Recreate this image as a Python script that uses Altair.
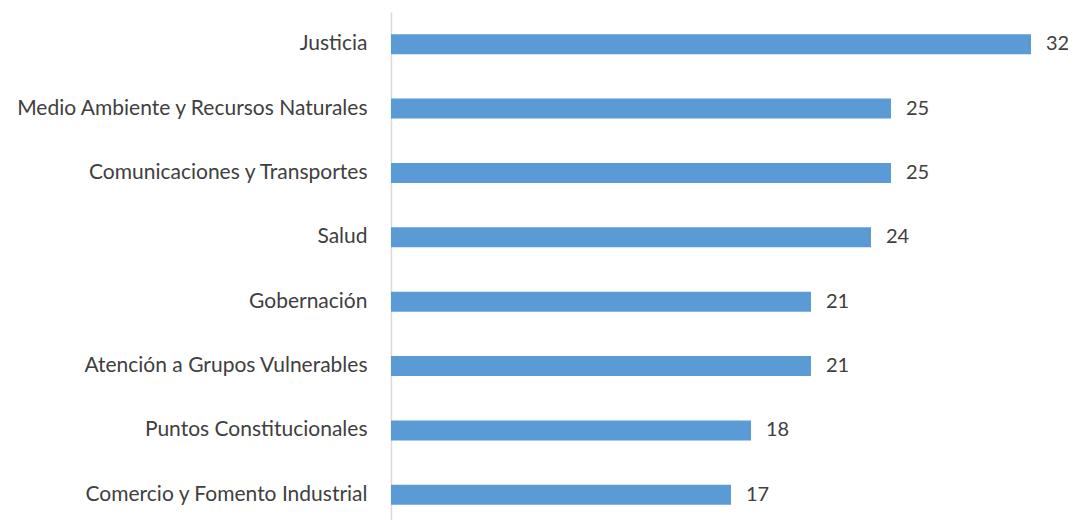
import altair as alt
import pandas as pd

categories = [
    "Justicia",
    "Medio Ambiente y Recursos Naturales",
    "Comunicaciones y Transportes",
    "Salud",
    "Gobernación",
    "Atención a Grupos Vulnerables",
    "Puntos Constitucionales",
    "Comercio y Fomento Industrial",
]
values = [32, 25, 25, 24, 21, 21, 18, 17]

df = pd.DataFrame({"cat": categories, "val": values})

FONT = "Lato"
TXT = "#404040"

y = alt.Y(
    "cat:N",
    sort=categories,
    scale=alt.Scale(paddingInner=0.69, paddingOuter=0.345),
    axis=alt.Axis(
        title=None,
        ticks=False,
        domainColor="#d9d9d9",
        domainWidth=1.5,
        labelFont=FONT,
        labelFontSize=21,
        labelColor=TXT,
        labelPadding=24,
        labelLimit=400,
    ),
)
x = alt.X("val:Q", scale=alt.Scale(domain=[0, 33]), axis=None)

bars = alt.Chart(df).mark_bar(color="#5B9BD5").encode(x=x, y=y)
labels = alt.Chart(df).mark_text(
    align="left", baseline="middle", dx=15, font=FONT, fontSize=20, color=TXT
).encode(x=x, y=y, text="val:Q")

chart = (
    (bars + labels)
    .properties(
        width=660,
        height=515,
        background="white",
        autosize=alt.AutoSizeParams(type="none"),
        padding={"left": 383, "top": 4, "right": 17, "bottom": 0},
    )
    .configure_view(stroke="transparent", strokeWidth=0)
)

chart.save("out.html", embed_options={"renderer": "svg", "actions": False})
